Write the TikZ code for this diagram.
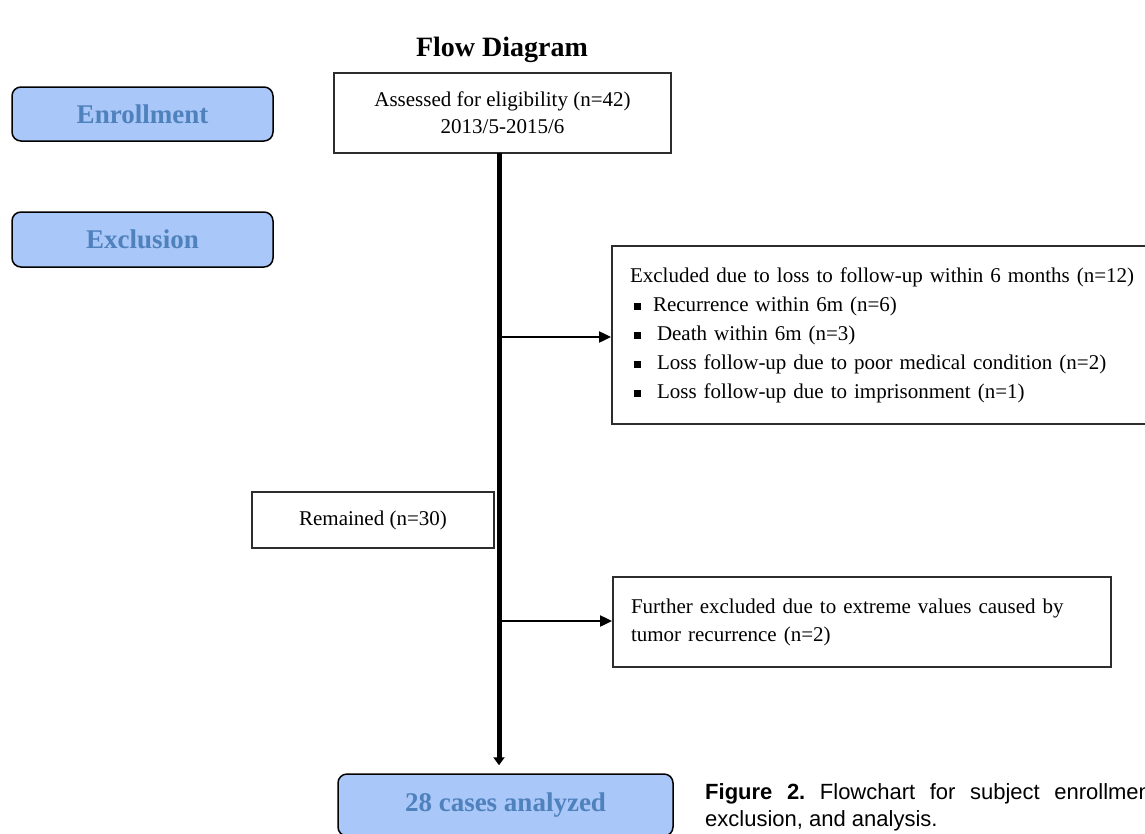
\documentclass[tikz,border=0pt]{standalone}
\usepackage{fontspec}
\setmainfont{Liberation Serif}
\newfontfamily\capfont{Liberation Sans}
\usetikzlibrary{arrows.meta}
\definecolor{phasefill}{RGB}{169,199,248}
\definecolor{phasetext}{RGB}{79,129,189}
\definecolor{boxline}{RGB}{45,45,45}
\newcommand\sqbul{\hspace*{4pt}\rule[1pt]{7pt}{7pt}}
\begin{document}
\begin{tikzpicture}[x=1pt,y=-1pt,
  phase/.style={draw=black, line width=1.5pt, rounded corners=9pt, fill=phasefill, text=phasetext,
    font=\fontsize{27}{30}\selectfont\bfseries, inner sep=0pt},
  wbox/.style={draw=boxline, line width=1.8pt, fill=white, font=\fontsize{21}{27}\selectfont, inner sep=0pt},
  conn/.style={line width=2pt, -{Triangle[length=12pt,width=11pt]}},
  spine/.style={line width=5pt, -{Triangle[length=8pt,width=11pt]}, shorten >=8pt},
]
\useasboundingbox (0,0) rectangle (1145,833);
\clip (0,0) rectangle (1145,833);

\node[font=\fontsize{28}{30}\selectfont\bfseries] (title) at (502,50) {Flow Diagram};

\node[phase, minimum width=261pt, minimum height=54pt] (enroll) at (142.5,114) {Enrollment};
\node[phase, minimum width=261pt, minimum height=55pt] (exclu) at (142.5,239.5) {Exclusion};

\node[wbox, minimum width=337pt, minimum height=80pt, align=center] (assess) at (502.5,113)
  {Assessed for eligibility (n=42)\\2013/5-2015/6};

\node[wbox, minimum width=556pt, minimum height=178pt, text width=520pt, inner xsep=18pt,
  align=left, font=\fontsize{21}{29}\selectfont] (excl1) at (890,335)
  {Excluded due to loss to follow-up within 6 months (n=12)\\
   \sqbul\hspace{12pt}Recurrence within 6m (n=6)\\
   \sqbul\hspace{16pt}Death within 6m (n=3)\\
   \sqbul\hspace{16pt}Loss follow-up due to poor medical condition (n=2)\\
   \sqbul\hspace{16pt}Loss follow-up due to imprisonment (n=1)};

\node[wbox, minimum width=242pt, minimum height=56pt] (remain) at (373,520) {Remained (n=30)};

\node[wbox, minimum width=498pt, minimum height=90pt, text width=462pt, inner xsep=18pt,
  align=left, font=\fontsize{21}{28}\selectfont] (excl2) at (862,622)
  {Further excluded due to extreme values caused by\\tumor recurrence (n=2)};

\node[phase, minimum width=335pt, minimum height=62pt] (final) at (505.5,805) {28 cases analyzed};

\coordinate (spinetop) at (499,153);
\coordinate (j1) at (499,337);
\coordinate (j2) at (499,621);
\draw[spine] (spinetop) -- (spinetop |- final.north);
\draw[conn] ([xshift=2.5pt]j1) -- (j1 -| excl1.west);
\draw[conn] ([xshift=2.5pt]j2) -- (j2 -| excl2.west);

\node[anchor=north west, text width=458pt, align=justify, inner sep=0pt,
  font=\capfont\fontsize{22}{27}\selectfont\frenchspacing] (cap) at (705,783)
  {\textbf{Figure 2.} Flowchart for subject enrollment,\linebreak exclusion, and analysis.};
\end{tikzpicture}
\end{document}
